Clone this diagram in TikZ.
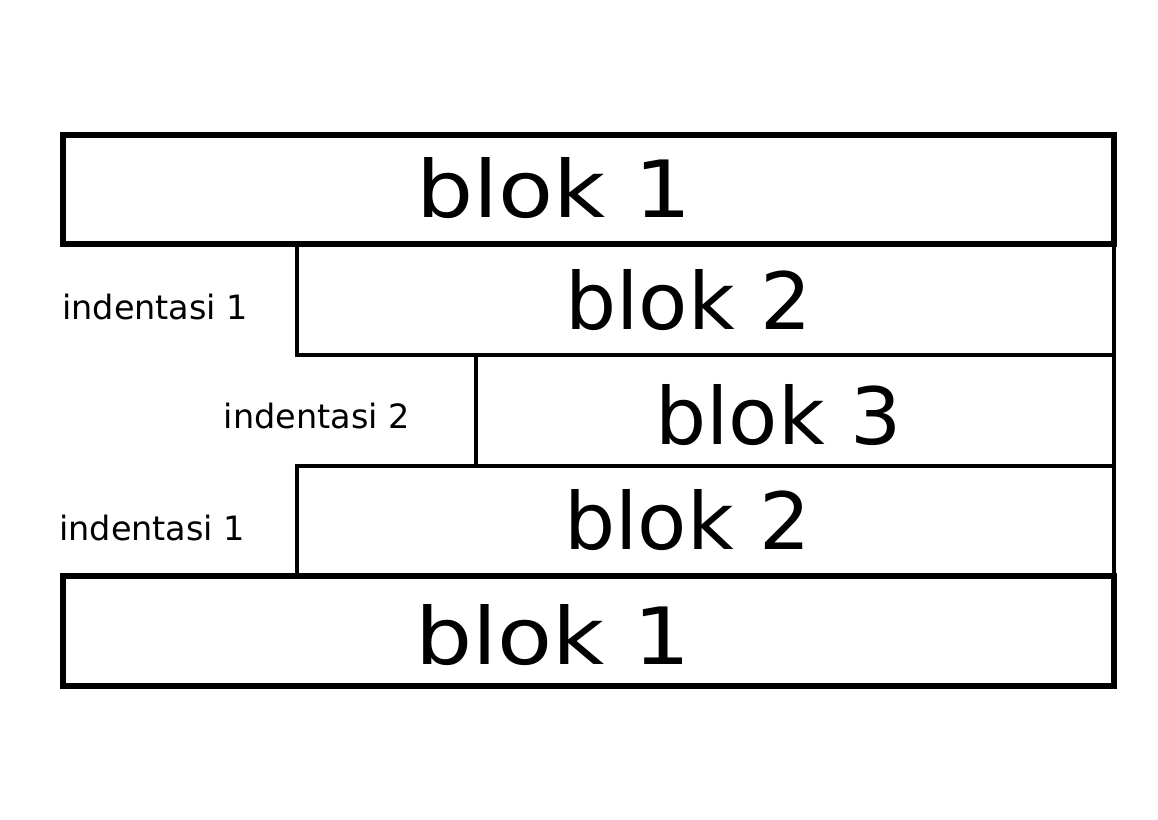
\documentclass[tikz,border=0pt]{standalone}
\usepackage{fontspec}
\setmainfont{DejaVu Sans}
\begin{document}
\begin{tikzpicture}[x=1pt,y=-1pt,
  thinbox/.style={draw=black,line width=4pt,fill=white},
  thickbox/.style={draw=black,line width=5.5pt},
  bigtext/.style={anchor=base west,inner sep=0pt,font=\fontsize{79}{90}\selectfont},
  smalltext/.style={anchor=base west,inner sep=0pt,font=\fontsize{33.5}{40}\selectfont}]
\useasboundingbox[fill=white] (0,0) rectangle (1158,819);
% inner blocks
\draw[thinbox] (297,244) rectangle (1114,355);
\draw[thinbox] (476,355) rectangle (1114,466);
\draw[thinbox] (297,466) rectangle (1114,576);
% outer blocks
\draw[thickbox] (63,135) rectangle (1114,244);
\draw[thickbox] (63,576) rectangle (1114,686);
% texts
\node[bigtext,xscale=1.14] (b1top) at (416,217) {blok 1};
\node[bigtext,xscale=1.02] (b2top) at (565,329) {blok 2};
\node[bigtext,xscale=1.02] (b3) at (655,444) {blok 3};
\node[bigtext,xscale=1.02] (b2bot) at (564,549) {blok 2};
\node[bigtext,xscale=1.14] (b1bot) at (415,664) {blok 1};
\node[smalltext] (ind1top) at (62,319) {indentasi 1};
\node[smalltext] (ind2) at (223.5,428) {indentasi 2};
\node[smalltext] (ind1bot) at (59,540) {indentasi 1};
\end{tikzpicture}
\end{document}
